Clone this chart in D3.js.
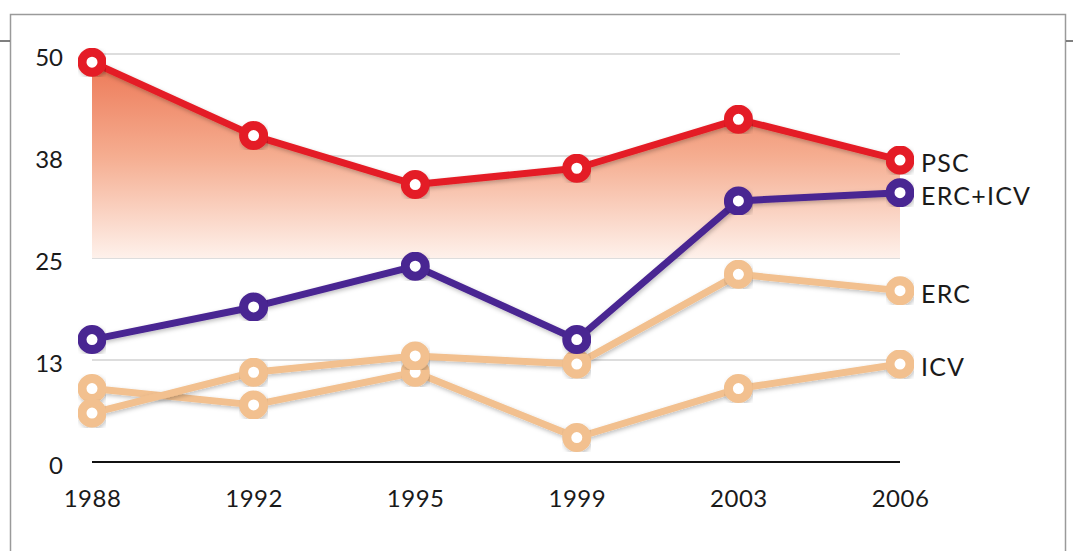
<!DOCTYPE html>
<html>
<head>
<meta charset="utf-8">
<script src="https://cdn.jsdelivr.net/npm/d3@7"></script>
<style>
    body { margin: 0; background: #fff; }
    svg { display: block; font-family: Lato, "Open Sans", sans-serif; }
</style>
</head>
<body>
<div id="chart-container"></div>
<script>
// Data (seats per election)
const years = ['1988', '1992', '1995', '1999', '2003', '2006']
const pscValues = [49, 40, 34, 36, 42, 37]
const ercIcvValues = [15, 19, 24, 15, 32, 33]
const ercValues = [6, 11, 13, 12, 23, 21]
const icvValues = [9, 7, 11, 3, 9, 12]
const yTickValues = [0, 12.5, 25, 37.5, 50]
const seriesNames = ['ICV', 'ERC', 'ERC+ICV', 'PSC']
const seriesColors = ['#f2c08f', '#f2c08f', '#4a2592', '#e41e25']

class SeatsLinePlotter {
    constructor(options) {
        this.width = options.width
        this.height = options.height
        this.series = [icvValues, ercValues, ercIcvValues, pscValues].map((values, i) => ({
            name: seriesNames[i],
            color: seriesColors[i],
            points: values.map((v, j) => ({ year: years[j], value: v }))
        }))

        this.x = d3.scalePoint().domain(years).range([92, 900])
        this.y = d3.scaleLinear().domain([0, 50]).range([462, 54])

        this.svg = d3.select('#chart-container')
            .append('svg')
            .attr('width', this.width)
            .attr('height', this.height)
    }

    plot() {
        this.#drawFrame()
        this.#createDefs()
        this.#drawGrid()
        this.#drawArea()
        this.#drawAxes()
        this.#drawSeries()
    }

    #drawFrame() {
        this.svg.append('rect')
            .attr('x', 10.5).attr('y', 14.5)
            .attr('width', 1055).attr('height', 560)
            .attr('fill', 'none')
            .attr('stroke', '#9a9a9a')
            .attr('stroke-width', 1.5)
        // little marks outside the frame
        this.svg.append('line').attr('x1', 0).attr('x2', 10).attr('y1', 41).attr('y2', 41)
            .attr('stroke', '#555').attr('stroke-width', 1.5)
        this.svg.append('line').attr('x1', 1066).attr('x2', 1073).attr('y1', 41).attr('y2', 41)
            .attr('stroke', '#555').attr('stroke-width', 1.5)
    }

    #createDefs() {
        const defs = this.svg.append('defs')
        const grad = defs.append('linearGradient')
            .attr('id', 'pscFill')
            .attr('gradientUnits', 'userSpaceOnUse')
            .attr('x1', 0).attr('x2', 0)
            .attr('y1', this.y(50)).attr('y2', this.y(25))
        grad.append('stop').attr('offset', '0%').attr('stop-color', '#ec7452')
        grad.append('stop').attr('offset', '50%').attr('stop-color', '#f5ad90')
        grad.append('stop').attr('offset', '100%').attr('stop-color', '#fef1eb')

        const shadow = defs.append('filter').attr('id', 'shadow')
            .attr('x', '-20%').attr('y', '-20%').attr('width', '140%').attr('height', '140%')
        shadow.append('feDropShadow')
            .attr('dx', 1).attr('dy', 2)
            .attr('stdDeviation', 2)
            .attr('flood-color', '#000')
            .attr('flood-opacity', 0.25)
    }

    #drawGrid() {
        this.svg.append('g')
            .selectAll('line')
            .data(yTickValues.filter(d => d > 0))
            .enter()
            .append('line')
            .attr('x1', this.x.range()[0])
            .attr('x2', this.x.range()[1])
            .attr('y1', d => this.y(d))
            .attr('y2', d => this.y(d))
            .attr('stroke', '#bcbcbc')
            .attr('stroke-width', 1.2)

        this.svg.append('line')
            .attr('x1', this.x.range()[0])
            .attr('x2', this.x.range()[1])
            .attr('y1', this.y(0))
            .attr('y2', this.y(0))
            .attr('stroke', '#111')
            .attr('stroke-width', 2)
    }

    #drawArea() {
        const psc = this.series.find(s => s.name === 'PSC')
        const area = d3.area()
            .x(d => this.x(d.year))
            .y0(this.y(25))
            .y1(d => this.y(d.value))
        this.svg.append('path')
            .datum(psc.points)
            .attr('d', area)
            .attr('fill', 'url(#pscFill)')
    }

    #drawAxes() {
        const xAxis = this.svg.append('g')
            .attr('transform', 'translate(0,' + (this.y(0) + 22) + ')')
            .call(d3.axisBottom(this.x).tickSize(0).tickPadding(6))
        xAxis.select('.domain').remove()
        xAxis.selectAll('text')
            .attr('font-family', 'Lato, sans-serif')
            .attr('font-size', 24)
            .attr('letter-spacing', 0.5)
            .attr('fill', '#1a1a1a')

        const yAxis = this.svg.append('g')
            .attr('transform', 'translate(63,4)')
            .call(d3.axisLeft(this.y).tickValues(yTickValues).tickFormat(d => Math.round(d)).tickSize(0).tickPadding(0))
        yAxis.select('.domain').remove()
        yAxis.selectAll('text')
            .attr('font-family', 'Lato, sans-serif')
            .attr('font-size', 24)
            .attr('fill', '#1a1a1a')
    }

    #drawSeries() {
        const line = d3.line()
            .x(d => this.x(d.year))
            .y(d => this.y(d.value))

        const groups = this.svg.selectAll('.series')
            .data(this.series)
            .enter()
            .append('g')
            .attr('class', 'series')

        groups.append('path')
            .attr('d', d => line(d.points))
            .attr('fill', 'none')
            .attr('stroke', d => d.color)
            .attr('stroke-width', 7)
            .attr('stroke-linejoin', 'round')
            .attr('filter', 'url(#shadow)')

        groups.selectAll('circle')
            .data(d => d.points.map(p => ({ ...p, color: d.color })))
            .enter()
            .append('circle')
            .attr('cx', d => this.x(d.year))
            .attr('cy', d => this.y(d.value))
            .attr('r', 10)
            .attr('fill', '#fff')
            .attr('stroke', d => d.color)
            .attr('stroke-width', 9)
            .attr('filter', 'url(#shadow)')

        // end labels
        groups.append('text')
            .attr('x', d => this.x(years[years.length - 1]) + 21)
            .attr('y', d => this.y(d.points[d.points.length - 1].value) + 2)
            .attr('dominant-baseline', 'central')
            .attr('font-size', 25)
            .attr('letter-spacing', 1.2)
            .attr('fill', '#1a1a1a')
            .text(d => d.name)
    }
}

const plotter = new SeatsLinePlotter({ width: 1073, height: 551 })
plotter.plot()
</script>
</body>
</html>
